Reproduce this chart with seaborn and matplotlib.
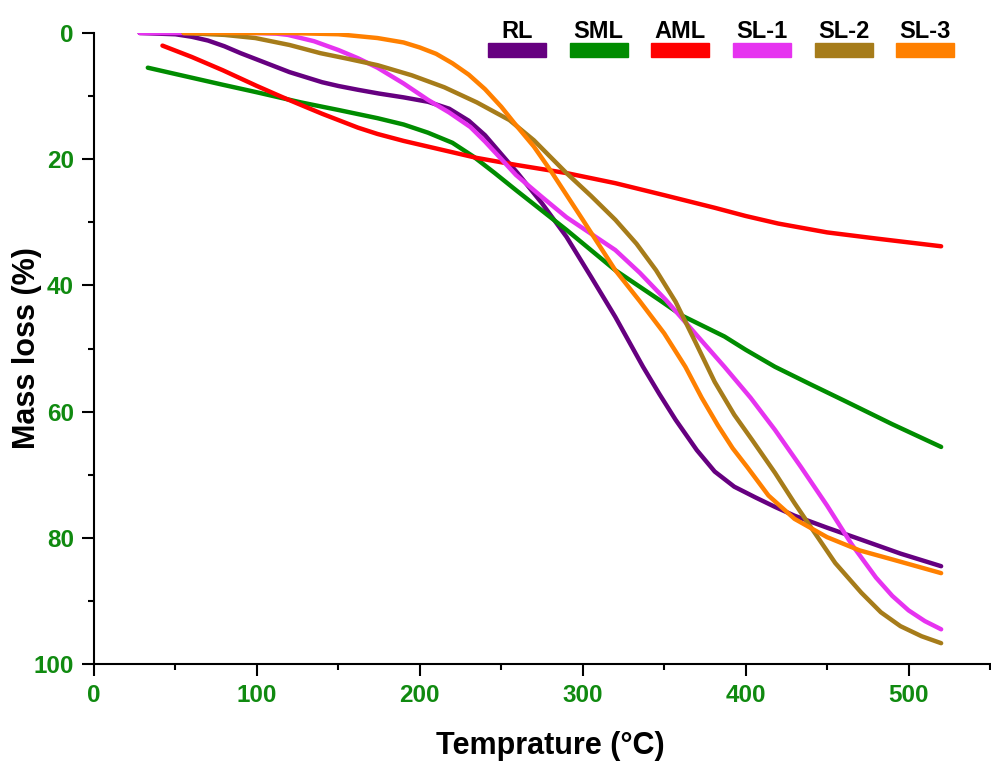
import matplotlib

matplotlib.use("Agg")

import matplotlib.pyplot as plt
import pandas as pd
import seaborn as sns
from matplotlib.patches import Rectangle

# temperature (°C) / mass loss (%)
RL_T = [28, 50, 60, 70, 80, 90, 100, 110, 120, 130, 140, 150, 162, 175, 190, 205,
        218, 230, 240, 250, 260, 275, 290, 305, 320, 337, 347, 357, 370, 381, 393,
        406, 418, 430, 450, 471, 495, 520]
RL_Y = [0, 0.2, 0.6, 1.2, 2.1, 3.2, 4.2, 5.2, 6.2, 7.0, 7.8, 8.4, 9.0, 9.6, 10.2,
        10.9, 12.0, 13.9, 16.2, 19.2, 22.2, 27.0, 32.3, 38.6, 45.0, 52.9, 57.2, 61.3,
        66.1, 69.5, 71.9, 73.6, 75.1, 76.5, 78.4, 80.3, 82.5, 84.5]

SML_T = [33, 50, 79, 100, 127, 150, 174, 190, 205, 220, 233, 246, 259, 290, 320,
         347, 361, 387, 400, 418, 440, 460, 490, 520]
SML_Y = [5.5, 6.5, 8.2, 9.4, 11.0, 12.2, 13.5, 14.5, 15.8, 17.4, 19.6, 22.2, 24.9,
         31.2, 37.6, 42.3, 44.8, 48.1, 50.2, 52.9, 55.7, 58.2, 62.0, 65.6]

AML_T = [42, 60, 79, 100, 115, 127, 140, 150, 162, 174, 190, 205, 220, 235, 259,
         290, 320, 350, 381, 400, 420, 450, 481, 520]
AML_Y = [2.0, 3.8, 5.9, 8.4, 10.1, 11.4, 12.8, 13.8, 15.0, 16.0, 17.1, 18.0, 18.9,
         19.8, 20.9, 22.2, 23.8, 25.7, 27.7, 29.0, 30.2, 31.6, 32.6, 33.8]

SL1_T = [28, 100, 112, 119, 135, 150, 162, 174, 190, 205, 218, 231, 240, 249, 259,
         275, 290, 305, 320, 335, 351, 370, 387, 403, 418, 434, 450, 465, 480, 490,
         500, 510, 520]
SL1_Y = [0, 0, 0.1, 0.3, 1.3, 2.7, 4.0, 5.5, 8.0, 10.6, 12.6, 14.9, 17.2, 19.7,
         22.5, 26.0, 29.2, 31.8, 34.4, 38.0, 42.3, 47.9, 52.9, 57.8, 62.9, 68.8, 74.9,
         81.0, 86.3, 89.2, 91.5, 93.2, 94.5]

SL2_T = [55, 80, 99, 120, 139, 156, 174, 195, 215, 235, 255, 270, 280, 290, 305,
         320, 333, 345, 357, 369, 381, 393, 404, 418, 430, 440, 455, 471, 483, 495,
         508, 520]
SL2_Y = [0, 0.3, 0.8, 1.9, 3.2, 4.1, 5.1, 6.7, 8.6, 11.0, 13.8, 17.0, 19.6, 22.2,
         25.8, 29.6, 33.4, 37.6, 42.6, 48.9, 55.3, 60.5, 64.5, 69.7, 74.5, 78.3, 84.0,
         88.7, 91.8, 94.0, 95.6, 96.7]

SL3_T = [55, 120, 150, 174, 190, 200, 210, 220, 230, 240, 250, 259, 270, 280, 300,
         320, 335, 350, 363, 373, 383, 392, 401, 414, 430, 450, 470, 491, 520]
SL3_Y = [0, 0, 0.2, 0.8, 1.5, 2.3, 3.3, 4.8, 6.6, 8.9, 11.7, 14.6, 18.0, 21.7, 29.6,
         37.6, 42.5, 47.6, 52.9, 57.8, 62.2, 65.8, 68.8, 73.3, 77.0, 79.9, 82.0, 83.5,
         85.6]

SAMPLES = ["RL", "SML", "AML", "SL-1", "SL-2", "SL-3"]
COLORS = ["#660080", "#008c00", "#ff0000", "#e633f0", "#a67c1a", "#ff8000"]

X_TICKS = [0, 100, 200, 300, 400, 500]
Y_TICKS = [0, 20, 40, 60, 80, 100]

TICK_GREEN = "#108a10"


def build_frame() -> pd.DataFrame:
    series = [
        (RL_T, RL_Y), (SML_T, SML_Y), (AML_T, AML_Y),
        (SL1_T, SL1_Y), (SL2_T, SL2_Y), (SL3_T, SL3_Y),
    ]
    frames = []
    for name, (temps, loss) in zip(SAMPLES, series):
        frames.append(pd.DataFrame({"Temperature": temps, "Mass loss": loss, "Sample": name}))
    return pd.concat(frames, ignore_index=True)


def draw_legend(ax) -> None:
    # labels sit above short colour bars, laid out in one row
    start, step = 0.4721, 0.0911
    bar_w, bar_h = 0.0647, 0.0222
    for i, (name, color) in enumerate(zip(SAMPLES, COLORS)):
        cx = start + i * step
        ax.add_patch(Rectangle((cx - bar_w / 2, 0.962), bar_w, bar_h,
                               transform=ax.transAxes, color=color, clip_on=False))
        ax.text(cx, 0.9913, name, transform=ax.transAxes, ha="center", va="baseline",
                fontsize=17, fontweight="bold", color="black", clip_on=False)


def main() -> None:
    sns.set_style("ticks")
    plt.rcParams["font.family"] = ["Liberation Sans", "DejaVu Sans"]
    plt.rcParams.update({
        "text.color": "black",
        "axes.labelcolor": "black",
        "axes.edgecolor": "black",
        "xtick.color": "black",
        "ytick.color": "black",
        "lines.solid_capstyle": "round",
        "lines.solid_joinstyle": "round",
    })

    df = build_frame()

    fig = plt.figure(figsize=(9.91, 7.62), dpi=100)
    ax = fig.add_axes([0.0949, 0.1286, 0.9041, 0.8281])

    sns.lineplot(
        data=df, x="Temperature", y="Mass loss", hue="Sample",
        palette=dict(zip(SAMPLES, COLORS)), linewidth=3.2,
        estimator=None, sort=False, legend=False, ax=ax,
    )

    ax.set_xlim(0, 546)
    ax.set_ylim(100, 0)
    ax.set_xticks(X_TICKS)
    ax.set_yticks(Y_TICKS)
    ax.set_xticks([50, 150, 250, 350, 450, 550], minor=True)
    ax.set_yticks([10, 30, 50, 70, 90], minor=True)

    sns.despine(ax=ax)
    for side in ("left", "bottom"):
        ax.spines[side].set_linewidth(1.5)
    ax.tick_params(which="major", direction="out", length=8.5, width=1.5, pad=6,
                   labelsize=17.5, labelcolor=TICK_GREEN)
    ax.tick_params(which="minor", direction="out", length=4.5, width=1.5)
    for lab in ax.get_xticklabels() + ax.get_yticklabels():
        lab.set_fontweight("bold")

    ax.set_xlabel("Temprature (°C)", fontsize=22, fontweight="bold")
    ax.set_ylabel("Mass loss (%)", fontsize=22, fontweight="bold")
    ax.xaxis.label.set_va("top")
    ax.xaxis.set_label_coords(0.509, -0.106)
    ax.yaxis.label.set_va("center")
    ax.yaxis.set_label_coords(-0.075, 0.5)

    draw_legend(ax)

    fig.savefig("out.png", dpi=100)
    plt.close(fig)


if __name__ == "__main__":
    main()
